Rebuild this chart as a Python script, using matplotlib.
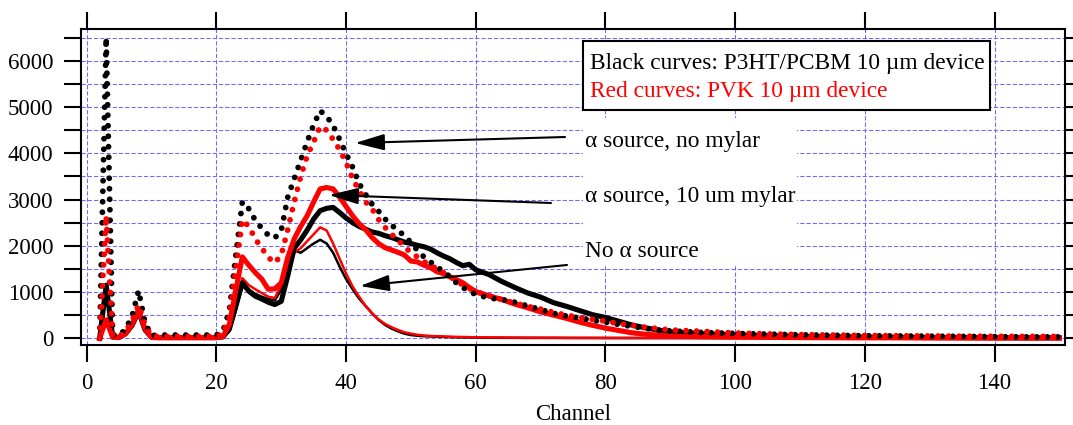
import matplotlib
matplotlib.use("Agg")
import matplotlib.pyplot as plt
from matplotlib.ticker import MultipleLocator, FuncFormatter
from matplotlib.patches import Rectangle

plt.rcParams['font.family'] = ['Liberation Serif', 'DejaVu Serif']
plt.rcParams['xtick.labelsize'] = 16.5
plt.rcParams['ytick.labelsize'] = 16.5

# ---------------- data ----------------
channels = (list(range(2, 61)) + list(range(62, 91, 2)) + list(range(95, 151, 5)))

# P3HT/PCBM device (black)
p3ht_no_mylar = ([0, 6500, 80, 60, 200, 480, 1030, 330, 60]
                 + [70] * 10
                 + [150, 600, 1800, 2950, 2800, 2550, 2380, 2230, 2170, 2330,
                    3050, 3450, 3850, 4250, 4620, 4920, 4800, 4600, 4300, 3990,
                    3700, 3350, 3110, 2900, 2750, 2580, 2450, 2330, 2220, 2070,
                    1900, 1760, 1650, 1540, 1450, 1330, 1200, 1100, 1010, 950]
                 + [870, 840, 780, 700, 620, 540, 480, 440, 390, 350, 300, 260, 220, 180, 160]
                 + [125, 105, 90, 75, 65, 55, 50, 45, 40, 35, 30, 30])
p3ht_mylar = ([0, 1150, 30, 20, 100, 280, 580, 180, 20]
              + [15] * 10
              + [30, 200, 700, 1200, 1020, 910, 850, 780, 730, 800,
                 1350, 1950, 2130, 2340, 2580, 2760, 2810, 2830, 2720, 2600,
                 2500, 2420, 2360, 2300, 2270, 2220, 2180, 2130, 2080, 2050,
                 2010, 1980, 1930, 1850, 1780, 1720, 1640, 1570, 1600, 1480]
              + [1380, 1230, 1100, 980, 890, 770, 690, 600, 510, 450, 370, 290, 230, 180, 140]
              + [95, 70, 55, 40, 30, 25, 20, 15, 12, 10, 8, 8])
p3ht_no_source = ([0, 1000, 30, 20, 100, 270, 560, 170, 20]
                  + [10] * 10
                  + [20, 150, 600, 1150, 1050, 960, 900, 850, 820, 1050,
                     1600, 1900, 1850, 1950, 2050, 2130, 2050, 1850, 1550, 1280,
                     1060, 860, 700, 540, 400, 290, 210, 150, 100, 70,
                     55, 45, 40, 35, 30, 25, 22, 20, 18, 15]
                  + [12, 10, 10, 8, 8, 8, 6, 6, 6, 5, 5, 5, 5, 5, 5]
                  + [5] * 12)

# PVK device (red)
pvk_no_mylar = ([0, 2650, 60, 40, 150, 380, 720, 280, 50]
                + [40] * 10
                + [100, 450, 1500, 2560, 2420, 2150, 1950, 1750, 1630, 1800,
                   2350, 2950, 3500, 3950, 4250, 4580, 4500, 4300, 4080, 3800,
                   3450, 3200, 2950, 2800, 2570, 2400, 2250, 2120, 1980, 1850,
                   1760, 1660, 1580, 1500, 1420, 1330, 1250, 1150, 1080, 1010]
                + [920, 840, 760, 690, 630, 560, 500, 450, 410, 370, 320, 280, 240, 210, 180]
                + [150, 115, 95, 80, 70, 60, 55, 50, 45, 42, 40, 40])
pvk_mylar = ([0, 400, 20, 20, 100, 300, 620, 200, 20]
             + [15] * 10
             + [40, 300, 1050, 1760, 1580, 1420, 1280, 1060, 1070, 1200,
                1750, 2150, 2420, 2650, 2950, 3230, 3260, 3230, 3050, 2850,
                2650, 2480, 2350, 2180, 2050, 1960, 1910, 1860, 1800, 1670,
                1650, 1580, 1530, 1440, 1400, 1330, 1270, 1200, 1100, 1010]
             + [920, 840, 740, 660, 570, 500, 430, 350, 280, 220, 170, 120, 90, 70, 50]
             + [35, 25, 20, 15, 12, 10, 10, 8, 8, 6, 5, 5])
pvk_no_source = ([0, 350, 20, 20, 100, 290, 600, 190, 20]
                 + [10] * 10
                 + [20, 200, 750, 1300, 1150, 1060, 980, 900, 870, 1150,
                    1650, 1850, 1950, 2100, 2250, 2400, 2330, 2050, 1720, 1400,
                    1120, 900, 700, 540, 410, 310, 240, 180, 130, 100,
                    75, 60, 50, 45, 40, 35, 30, 28, 25, 22]
                 + [20, 18, 15, 14, 13, 12, 11, 10, 10, 9, 9, 8, 8, 8, 8]
                 + [7] * 12)

legend_lines = ["Black curves: P3HT/PCBM 10 \u00b5m device",
                "Red curves: PVK 10 \u00b5m device"]
annot_labels = ["\u03b1 source, no mylar",
                "\u03b1 source, 10 um mylar",
                "No \u03b1 source"]
x_label = "Channel"

# ---------------- figure ----------------
W, H = 1073, 425
fig = plt.figure(figsize=(W / 100, H / 100), dpi=100)
ax = fig.add_axes([81 / W, (H - 345) / H, 984 / W, 316 / H])

dot_style = (0, (0.001, 1.8))
ax.plot(channels, p3ht_no_source, color='black', lw=1.8, zorder=2)
ax.plot(channels, pvk_no_source, color='red', lw=1.8, zorder=2.1)
ax.plot(channels, p3ht_mylar, color='black', lw=3.7, zorder=2.2)
ax.plot(channels, pvk_mylar, color='red', lw=3.7, zorder=2.3)
ax.plot(channels, p3ht_no_mylar, color='black', lw=4.2, linestyle=dot_style,
        dash_capstyle='round', zorder=2.4)
ax.plot(channels, pvk_no_mylar, color='red', lw=4.2, linestyle=dot_style,
        dash_capstyle='round', zorder=2.5)

ax.set_xlim(-0.88, 150.86)
ax.set_ylim(-145, 6688)

ax.xaxis.set_major_locator(MultipleLocator(20))
ax.yaxis.set_major_locator(MultipleLocator(1000))
ax.yaxis.set_minor_locator(MultipleLocator(500))
ax.yaxis.set_major_formatter(FuncFormatter(lambda v, p: f"{int(v)}"))

ax.tick_params(which='both', direction='out', length=12, width=1.5,
               top=True, right=True, pad=8)
ax.tick_params(axis='x', which='minor', bottom=False, top=False)
for s in ax.spines.values():
    s.set_linewidth(1.5)

ax.set_axisbelow(True)
grid_color = '#6b6bff'
ax.grid(True, which='major', axis='x', color=grid_color, lw=0.75,
        linestyle=(0, (4, 2)))
ax.grid(True, which='both', axis='y', color=grid_color, lw=0.75,
        linestyle=(0, (4, 2)))

ax.set_xlabel(x_label, fontsize=16.5, labelpad=7)

# white background behind annotation texts
ax.add_patch(Rectangle((0.510, 0.253), 0.2176, 0.465, transform=ax.transAxes,
                       facecolor='white', edgecolor='none', zorder=1))

# legend-like box
ax.add_patch(Rectangle((0.5099, 0.7437), 0.4139, 0.2193, transform=ax.transAxes,
                       facecolor='white', edgecolor='black', lw=1.5, zorder=3))
ax.text(0.5173, 0.8725, legend_lines[0], transform=ax.transAxes, fontsize=16.8,
        color='black', va='baseline', ha='left', zorder=4)
ax.text(0.5173, 0.7858, legend_lines[1], transform=ax.transAxes, fontsize=16.8,
        color='red', va='baseline', ha='left', zorder=4)

# annotations
text_x = 0.5122
text_y = [0.6266, 0.4535, 0.2794]
for lab, ty in zip(annot_labels, text_y):
    ax.text(text_x, ty, lab, transform=ax.transAxes, fontsize=16.8,
            va='baseline', ha='left', zorder=4)

arrow_tails = [(0.4919, 0.6582), (0.4776, 0.4494), (0.4939, 0.2532)]
arrow_heads = [(0.2785, 0.6392), (0.2520, 0.4747), (0.2835, 0.1867)]
for tail, head in zip(arrow_tails, arrow_heads):
    ax.annotate('', xy=head, xytext=tail, xycoords='axes fraction',
                textcoords='axes fraction',
                arrowprops=dict(arrowstyle='-|>,head_length=1.8,head_width=0.5',
                                mutation_scale=10, color='black', lw=1.5,
                                shrinkA=0, shrinkB=0),
                zorder=4)

fig.savefig('out.png', dpi=100)
